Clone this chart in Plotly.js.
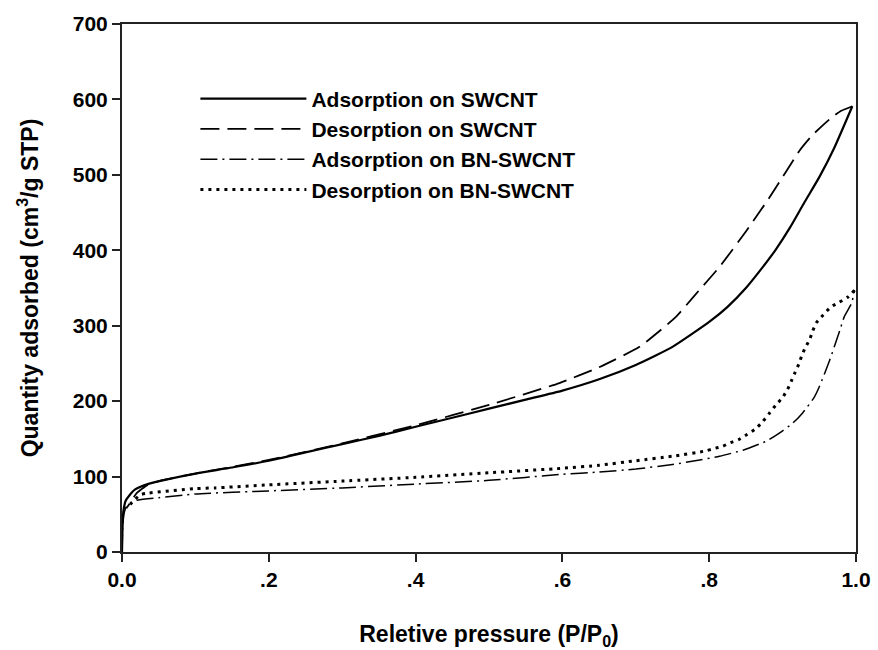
<!DOCTYPE html>
<html>
<head>
<meta charset="utf-8">
<script src="https://cdn.plot.ly/plotly-3.0.1.min.js"></script>
<style>html,body{margin:0;padding:0;background:#fff;}#chart{width:878px;height:650px;}</style>
</head>
<body>
<div id="chart"></div>
<script>
// Adsorption on SWCNT (solid)
const adsSwX = [0.0, 0.001, 0.002, 0.005, 0.01, 0.018, 0.035, 0.06, 0.1, 0.15, 0.2, 0.25, 0.3, 0.35, 0.4, 0.45, 0.5, 0.55, 0.6, 0.65, 0.7, 0.75, 0.8, 0.825, 0.85, 0.87, 0.89, 0.91, 0.93, 0.95, 0.97, 0.995];
const adsSwY = [0, 40, 55, 68, 75, 83, 90, 96, 104, 112, 121, 132, 143, 154, 166, 178, 190, 202, 214, 229, 248, 272, 305, 325, 350, 374, 400, 430, 464, 497, 535, 591];
// Desorption on SWCNT (dashed)
const desSwX = [0.995, 0.98, 0.968, 0.955, 0.94, 0.923, 0.9, 0.88, 0.85, 0.814, 0.78, 0.755, 0.705, 0.65, 0.596, 0.5, 0.4, 0.3, 0.2, 0.1, 0.05, 0.035, 0.02, 0.011, 0.006];
const desSwY = [591, 585, 577, 566, 552, 532, 497, 467, 425, 378, 340, 312, 272, 245, 224, 195, 168, 144, 122, 104, 94, 89, 78, 65, 58];
// Adsorption on BN-SWCNT (dash-dot)
const adsBnX = [0.0, 0.001, 0.003, 0.006, 0.011, 0.022, 0.05, 0.1, 0.2, 0.3, 0.4, 0.5, 0.6, 0.65, 0.7, 0.75, 0.787, 0.814, 0.846, 0.878, 0.896, 0.914, 0.927, 0.943, 0.95, 0.964, 0.978, 0.984, 0.994, 0.998];
const adsBnY = [0, 35, 52, 60, 65, 69, 72, 77, 81, 85, 90, 95, 103, 106, 110, 116, 122, 127, 135, 147, 158, 171, 184, 205, 219, 254, 294, 312, 330, 347];
// Desorption on BN-SWCNT (dotted)
const desBnX = [0.998, 0.989, 0.977, 0.966, 0.955, 0.946, 0.941, 0.937, 0.931, 0.926, 0.922, 0.917, 0.912, 0.907, 0.9, 0.891, 0.882, 0.873, 0.863, 0.852, 0.84, 0.829, 0.818, 0.806, 0.795, 0.75, 0.7, 0.65, 0.6, 0.5, 0.4, 0.3, 0.2, 0.127, 0.1, 0.035, 0.025, 0.014, 0.009];
const desBnY = [347, 338, 331, 325, 314, 304, 293, 282, 271, 260, 249, 238, 227, 216, 205, 195, 184, 173, 163, 156, 149, 145, 140, 137, 134, 127, 121, 115, 111, 105, 99, 94, 89, 85, 84, 78, 76, 66, 61];

const seriesNames = ["Adsorption on SWCNT", "Desorption on SWCNT", "Adsorption on BN-SWCNT", "Desorption on BN-SWCNT"];
const xTickVals = [0, 0.2, 0.4, 0.6, 0.8, 1.0];
const xTickText = ["0.0", ".2", ".4", ".6", ".8", "1.0"];
const yTickVals = [0, 100, 200, 300, 400, 500, 600, 700];

const FONT = "Liberation Sans, Arial, sans-serif";
const lineStyles = [
  {color: "#000", width: 2.2, dash: "solid"},
  {color: "#000", width: 1.8, dash: "19px,8px"},
  {color: "#000", width: 1.5, dash: "17px,5px,2px,5px"},
  {color: "#000", width: 3, dash: "3px,5px"}
];
const xs = [adsSwX, desSwX, adsBnX, desBnX];
const ys = [adsSwY, desSwY, adsBnY, desBnY];
const traces = seriesNames.map((n, i) => ({
  type: "scatter", mode: "lines", x: xs[i], y: ys[i], name: n,
  line: Object.assign({shape: "spline", smoothing: 0.5}, lineStyles[i])
}));

const axisCommon = {
  showgrid: false, zeroline: false, showline: true, mirror: true,
  linecolor: "#222", linewidth: 2, ticks: "outside", ticklen: 8, tickwidth: 2, tickcolor: "#222",
  tickfont: {family: FONT, size: 21, color: "#000", weight: "bold"}
};

const layout = {
  width: 878, height: 650,
  margin: {l: 122, r: 22, t: 24, b: 98},
  paper_bgcolor: "#fff", plot_bgcolor: "#fff",
  showlegend: true,
  legend: {
    x: 0.1, y: 0.897, xanchor: "left", yanchor: "top",
    bgcolor: "rgba(0,0,0,0)", borderwidth: 0,
    font: {family: FONT, size: 21, color: "#000", weight: "bold"},
    itemwidth: 106, traceorder: "normal"
  },
  xaxis: Object.assign({}, axisCommon, {
    range: [0, 1], tickvals: xTickVals, ticktext: xTickText,
    title: {text: "Reletive pressure (P/P<sub>0</sub>)", font: {family: FONT, size: 23, color: "#000", weight: "bold"}, standoff: 36}
  }),
  yaxis: Object.assign({}, axisCommon, {
    range: [0, 700], tickvals: yTickVals,
    title: {text: "Quantity adsorbed (cm<sup>3</sup>/g STP)", font: {family: FONT, size: 23, color: "#000", weight: "bold"}, standoff: 28}
  })
};

Plotly.newPlot("chart", traces, layout, {displayModeBar: false, staticPlot: true});
</script>
</body>
</html>
